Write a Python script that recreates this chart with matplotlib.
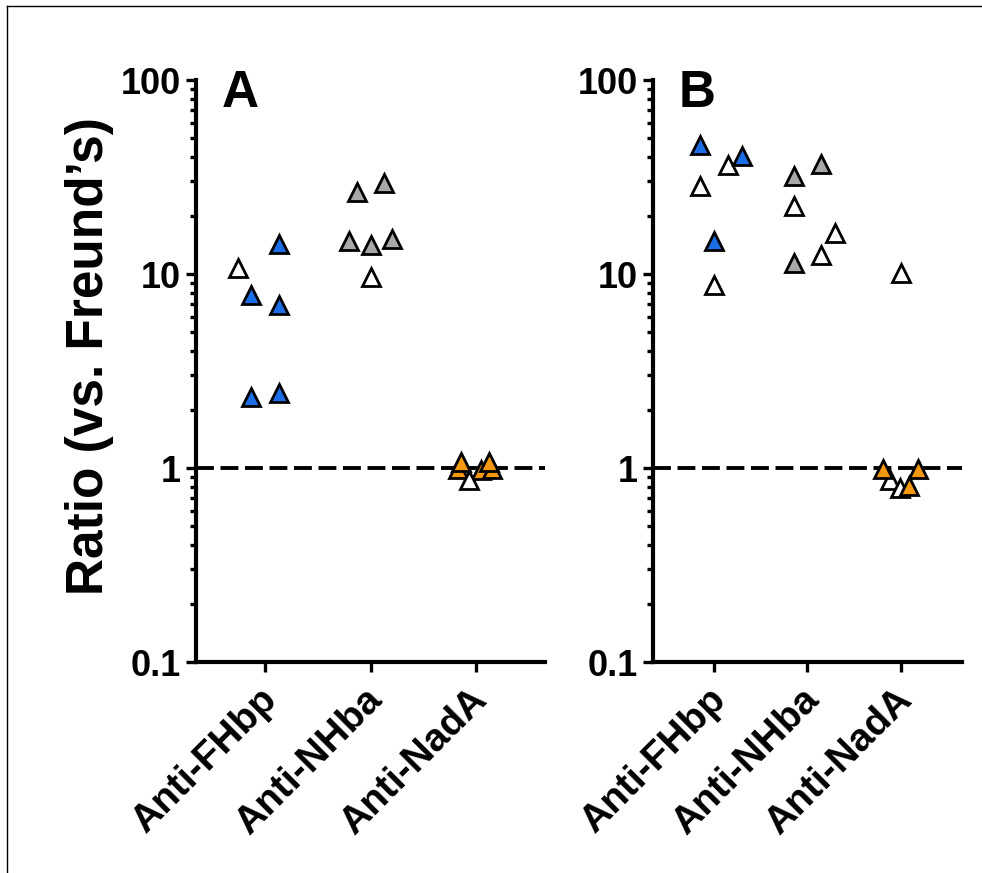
import matplotlib
matplotlib.use("Agg")
import matplotlib.pyplot as plt
import matplotlib.transforms as mtransforms
from matplotlib.lines import Line2D
from matplotlib.ticker import LogLocator, NullFormatter, FixedLocator

plt.rcParams['font.family'] = ['Liberation Sans', 'DejaVu Sans']
plt.rcParams['font.weight'] = 'bold'

categories = ["Anti-FHbp", "Anti-NHba", "Anti-NadA"]
ytick_vals = [0.1, 1, 10, 100]
ytick_labels = ["0.1", "1", "10", "100"]
panel_letters = ["A", "B"]
ylabel = "Ratio (vs. Freund\u2019s)"

# Panel A values (filled = coloured marker, else open/white)
a_fhbp_vals = [10.7, 14.3, 7.8, 6.9, 2.33, 2.44]
a_fhbp_filled = [False, True, True, True, True, True]
a_nhba_vals = [26.6, 29.4, 14.8, 14.1, 15.1, 9.65]
a_nhba_filled = [True, True, True, True, True, False]
a_nada_vals = [0.99, 0.98, 0.99, 1.07, 1.07, 0.87]
a_nada_filled = [True, True, True, True, True, False]

# Panel B values
b_fhbp_vals = [46.3, 36.5, 40.5, 28.5, 14.8, 8.75]
b_fhbp_filled = [True, False, True, False, True, False]
b_nhba_vals = [31.9, 36.7, 22.4, 16.2, 12.6, 11.4]
b_nhba_filled = [True, True, False, False, False, True]
b_nada_vals = [10.1, 0.87, 0.79, 0.985, 0.985, 0.81]
b_nada_filled = [False, False, False, True, True, True]

# horizontal jitter of the points within each category (layout)
a_fhbp_off = [-0.26, 0.133, -0.133, 0.133, -0.133, 0.133]
a_nhba_off = [-0.133, 0.133, -0.2, 0.0, 0.2, 0.0]
a_nada_off = [-0.17, 0.05, 0.16, -0.143, 0.127, -0.065]
b_fhbp_off = [-0.158, 0.143, 0.294, -0.154, 0.0, 0.0]
b_nhba_off = [-0.15, 0.146, -0.15, 0.297, 0.146, -0.15]
b_nada_off = [0.0, -0.115, -0.008, -0.194, 0.183, 0.09]

fill_colors = ["#1C6EE6", "#A8A8A8", "#F5980F"]

panels = [
    [(a_fhbp_vals, a_fhbp_filled, a_fhbp_off),
     (a_nhba_vals, a_nhba_filled, a_nhba_off),
     (a_nada_vals, a_nada_filled, a_nada_off)],
    [(b_fhbp_vals, b_fhbp_filled, b_fhbp_off),
     (b_nhba_vals, b_nhba_filled, b_nhba_off),
     (b_nada_vals, b_nada_filled, b_nada_off)],
]

W, H = 982, 873
fig = plt.figure(figsize=(W / 100, H / 100), dpi=100)

axes_px = [(196, 545), (653, 962)]
top_px, bot_px = 80, 662

label_shift = mtransforms.ScaledTranslation(-0.07, -0.02, fig.dpi_scale_trans)

for pi, (x0, x1) in enumerate(axes_px):
    ax = fig.add_axes([x0 / W, 1 - bot_px / H, (x1 - x0) / W, (bot_px - top_px) / H])
    ax.set_yscale('log')
    ax.set_ylim(0.1, 100)
    ax.set_xlim(-0.66, 2.66)
    for s in ['top', 'right']:
        ax.spines[s].set_visible(False)
    for s in ['left', 'bottom']:
        ax.spines[s].set_linewidth(3.0)
        ax.spines[s].set_capstyle('projecting')

    ax.axhline(1, color='black', lw=2.8, ls=(0, (4.6, 1.7)), zorder=2)

    z = 3
    for ci, (vals, filled, offs) in enumerate(panels[pi]):
        for v, f, o in zip(vals, filled, offs):
            ax.plot([ci + o], [v], marker='^', ms=13, mew=2.0, mec='black',
                    mfc=fill_colors[ci] if f else 'white', ls='none', zorder=z,
                    clip_on=False)
            z += 0.01

    ax.yaxis.set_major_locator(FixedLocator(ytick_vals))
    ax.set_yticklabels(ytick_labels)
    ax.yaxis.set_minor_locator(LogLocator(base=10, subs=range(2, 10)))
    ax.yaxis.set_minor_formatter(NullFormatter())
    ax.tick_params(axis='y', which='major', direction='out', length=7, width=2.4,
                   labelsize=26, pad=4)
    ax.tick_params(axis='y', which='minor', direction='out', length=4.5, width=2.4)
    ax.set_xticks(range(len(categories)))
    ax.set_xticklabels(categories, rotation=45, ha='right', va='top',
                       rotation_mode='anchor', fontsize=28, fontweight='bold')
    ax.tick_params(axis='x', which='major', direction='out', length=7, width=2.4,
                   pad=6)
    for lab in ax.get_xticklabels():
        lab.set_transform(lab.get_transform() + label_shift)
    for lab in ax.get_yticklabels():
        lab.set_fontweight('bold')

    ax.text((x0 + 26) / W, 1 - 107 / H, panel_letters[pi], transform=fig.transFigure,
            fontsize=37, fontweight='bold', ha='left', va='baseline')

fig.text(90 / W, 1 - 356 / H, ylabel, rotation=90, ha='center', va='center',
         fontsize=37, fontweight='bold')

# thin frame lines (top and left edges)
fig.add_artist(Line2D([7 / W, 7 / W], [0, 1 - 6 / H], transform=fig.transFigure,
                      color='black', lw=1))
fig.add_artist(Line2D([7 / W, 1], [1 - 6 / H, 1 - 6 / H], transform=fig.transFigure,
                      color='black', lw=1))

fig.savefig("out.png", dpi=100)
